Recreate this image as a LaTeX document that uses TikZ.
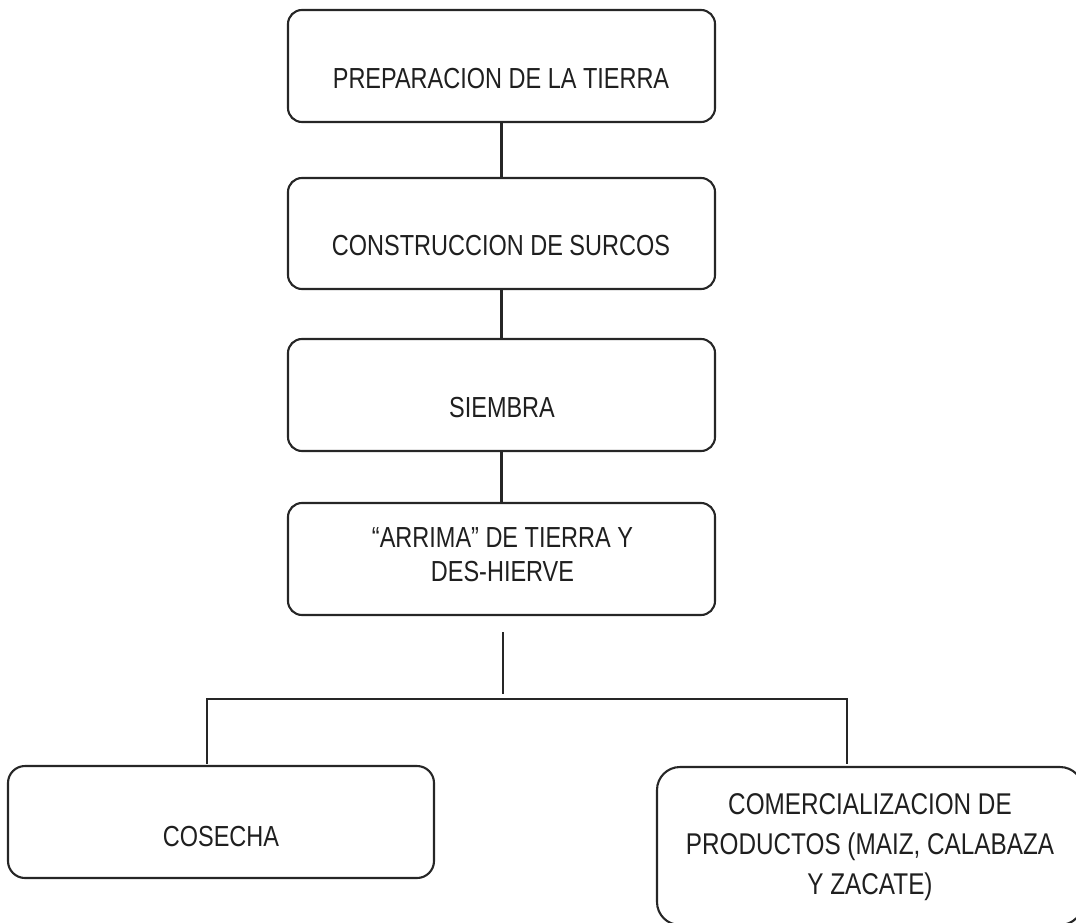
\documentclass[tikz,border=0pt]{standalone}
\usepackage{fontspec}
\setmainfont{Liberation Sans}[FakeStretch=0.81]
\begin{document}
\begin{tikzpicture}[x=1pt,y=-1pt,
  box/.style={draw=black!85, line width=2.1pt, rounded corners=14pt, inner sep=0pt, minimum width=427pt, minimum height=112pt},
  lbl/.style={font=\fontsize{29}{34}\selectfont, text=black!88, inner sep=0pt, align=center},
  conn/.style={draw=black!85, line width=2.2pt}]
\useasboundingbox (0,0) rectangle (1076,923);
% boxes
\node[box] (b1) at (501.5,66) {};
\node[box, minimum height=111pt] (b2) at (501.5,233.5) {};
\node[box] (b3) at (501.5,395) {};
\node[box] (b4) at (501.5,559) {};
\node[box, minimum width=426pt, minimum height=112pt, rounded corners=17pt] (b5) at (221,822) {};
\node[box, minimum width=426pt, minimum height=158pt, rounded corners=23pt] (b6) at (870,846) {};
% texts
\node[lbl] (t1) at (501,79) {PREPARACION DE LA TIERRA};
\node[lbl] (t2) at (501,246) {CONSTRUCCION DE SURCOS};
\node[lbl] (t3) at (502,407.5) {SIEMBRA};
\node[lbl, anchor=north] (t4) at (502.5,527) {“ARRIMA” DE TIERRA Y\\DES-HIERVE};
\node[lbl] (t5) at (221,837) {COSECHA};
\node[lbl, anchor=north, font=\fontsize{30}{40}\selectfont] (t6) at (870,793) {COMERCIALIZACION DE\\PRODUCTOS (MAIZ, CALABAZA\\Y ZACATE)};
% connectors
\draw[conn] (b1.south) -- (b2.north);
\draw[conn] (b2.south) -- (b3.north);
\draw[conn] (b3.south) -- (b4.north);
\coordinate (j) at (503,632);
\coordinate (h) at (503,694);
\coordinate (hl) at (207,699);
\coordinate (hr) at (847,699);
\coordinate (el) at (207,764);
\coordinate (er) at (847,764);
\draw[conn] (j) -- (h);
\draw[conn] (el) -- (hl) -- (hr) -- (er);
\end{tikzpicture}
\end{document}
